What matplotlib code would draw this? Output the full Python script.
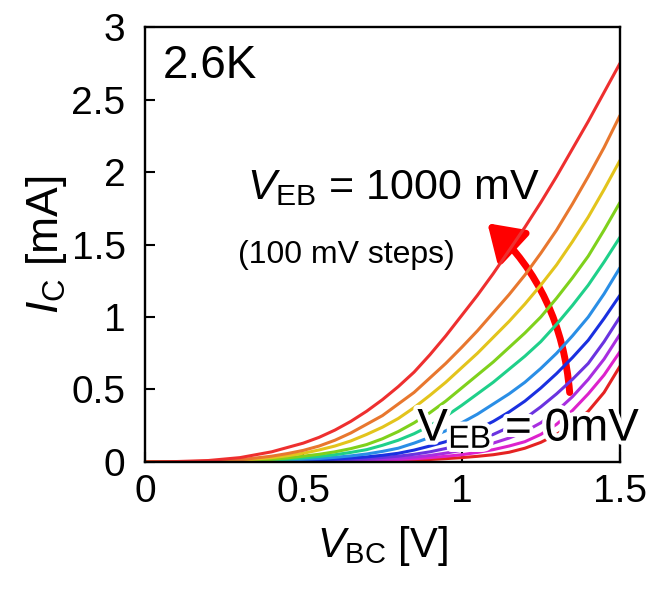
import matplotlib
matplotlib.use("Agg")
import matplotlib.pyplot as plt
import matplotlib.patheffects as pe
from matplotlib.patches import FancyArrowPatch

plt.rcParams['font.family'] = ['Liberation Sans', 'DejaVu Sans']
plt.rcParams['mathtext.fontset'] = 'custom'
plt.rcParams['mathtext.rm'] = 'Liberation Sans'
plt.rcParams['mathtext.it'] = 'Liberation Sans:italic'

# V_BC sweep [V]
v_bc = [0, 0.1, 0.2, 0.3, 0.4, 0.45, 0.5, 0.55, 0.6, 0.65, 0.7, 0.75, 0.8, 0.85,
        0.9, 0.95, 1.0, 1.05, 1.1, 1.15, 1.2, 1.25, 1.3, 1.35, 1.4, 1.45, 1.5]

# I_C [mA] for V_EB = 0 ... 1000 mV (100 mV steps)
ic_0 = [0, 0, 0, 0, 0, 0, .001, .0015, .002, .0035, .005, .007, .009, .013,
        .017, .023, .03, .039, .05, .067, .095, .135, .19, .26, .35, .48, .66]
ic_100 = [0, 0, 0, 0, .001, .0015, .002, .0035, .005, .007, .009, .012, .016, .022,
          .03, .039, .05, .066, .085, .11, .14, .19, .26, .355, .47, .60, .76]
ic_200 = [0, 0, 0, .001, .002, .003, .004, .006, .008, .011, .015, .02, .026, .034,
          .045, .061, .08, .10, .13, .165, .21, .27, .35, .45, .57, .71, .88]
ic_300 = [0, 0, 0, .001, .003, .005, .007, .01, .013, .018, .023, .031, .04, .053,
          .07, .093, .12, .15, .19, .24, .30, .38, .47, .57, .68, .83, 1.00]
ic_400 = [0, 0, .001, .002, .005, .008, .011, .015, .02, .027, .035, .046, .06, .082,
          .11, .14, .18, .225, .28, .345, .42, .51, .61, .72, .84, .99, 1.15]
ic_500 = [0, 0, .001, .003, .008, .012, .018, .024, .032, .042, .055, .073, .095, .13,
          .17, .215, .27, .33, .40, .47, .55, .645, .75, .87, 1.00, 1.16, 1.34]
ic_600 = [0, 0, .001, .004, .012, .019, .028, .038, .05, .066, .085, .115, .15, .195,
          .25, .315, .39, .47, .55, .64, .73, .83, .95, 1.08, 1.22, 1.38, 1.55]
ic_700 = [0, 0, .002, .006, .018, .028, .04, .053, .07, .092, .12, .16, .21, .27,
          .34, .42, .51, .60, .69, .79, .89, 1.00, 1.13, 1.27, 1.42, 1.60, 1.79]
ic_800 = [0, .001, .003, .01, .03, .043, .06, .083, .11, .145, .19, .24, .30, .375,
          .46, .55, .65, .75, .86, .97, 1.09, 1.22, 1.36, 1.52, 1.69, 1.88, 2.08]
ic_900 = [0, .001, .005, .015, .04, .058, .08, .11, .15, .20, .26, .32, .40, .48,
          .58, .68, .79, .905, 1.03, 1.155, 1.29, 1.44, 1.60, 1.78, 1.97, 2.17, 2.39]
ic_1000 = [0, .003, .01, .03, .07, .10, .13, .17, .22, .28, .35, .43, .52, .62,
           .74, .87, 1.01, 1.15, 1.30, 1.46, 1.62, 1.79, 1.97, 2.16, 2.35, 2.55, 2.75]

curves = [ic_0, ic_100, ic_200, ic_300, ic_400, ic_500, ic_600, ic_700, ic_800, ic_900, ic_1000]
colors = ['#e52222', '#dd22cc', '#a82ee0', '#6a33e0', '#1a30e0', '#2a8ee6',
          '#1fd08a', '#7fd11c', '#e3c41c', '#e8772e', '#ee2f2f']

x_ticks = [0, 0.5, 1, 1.5]
x_tick_labels = ['0', '0.5', '1', '1.5']
y_ticks = [0, 0.5, 1, 1.5, 2, 2.5, 3]
y_tick_labels = ['0', '0.5', '1', '1.5', '2', '2.5', '3']

fig = plt.figure(figsize=(6.56, 5.90), dpi=100)
ax = fig.add_axes([0.221, 0.217, 0.724, 0.737])

for ic, c in zip(curves, colors):
    ax.plot(v_bc, ic, color=c, lw=2.2, solid_capstyle='round')

ax.set_xlim(0, 1.5)
ax.set_ylim(0, 3)
ax.set_xticks(x_ticks)
ax.set_xticklabels(x_tick_labels)
ax.set_yticks(y_ticks)
ax.set_yticklabels(y_tick_labels)
ax.tick_params(direction='in', length=7, width=1.5, labelsize=28,
               top=False, right=False)
ax.tick_params(axis='x', pad=9)
ax.tick_params(axis='y', pad=14)
for s in ax.spines.values():
    s.set_linewidth(1.7)

ax.set_xlabel(r'$\mathit{V}_{\mathrm{BC}}$ [V]', fontsize=30, labelpad=10)
ax.set_ylabel(r'$\mathit{I}_{\mathrm{C}}$ [mA]', fontsize=32, labelpad=2)

ax.text(0.038, 0.962, '2.6K', transform=ax.transAxes, fontsize=33,
        ha='left', va='top')
ax.text(0.786, 1.89, r'$\mathit{V}_{\mathrm{EB}}$ = 1000 mV', fontsize=31,
        ha='center', va='center')
ax.text(0.635, 1.43, '(100 mV steps)', fontsize=23, ha='center', va='center')
ax.text(1.213, 0.23, r'$\mathrm{V}_{\mathrm{EB}}$ = 0mV', fontsize=33,
        ha='center', va='center', clip_on=False,
        path_effects=[pe.withStroke(linewidth=6, foreground='white')])

arrow = FancyArrowPatch((1.342, 0.46), (1.075, 1.66),
                        connectionstyle='arc3,rad=0.2',
                        arrowstyle='-|>,head_length=13,head_width=8.5',
                        color='#ff0000', lw=5, mutation_scale=1.6)
ax.add_patch(arrow)

fig.savefig('out.png', dpi=100)
